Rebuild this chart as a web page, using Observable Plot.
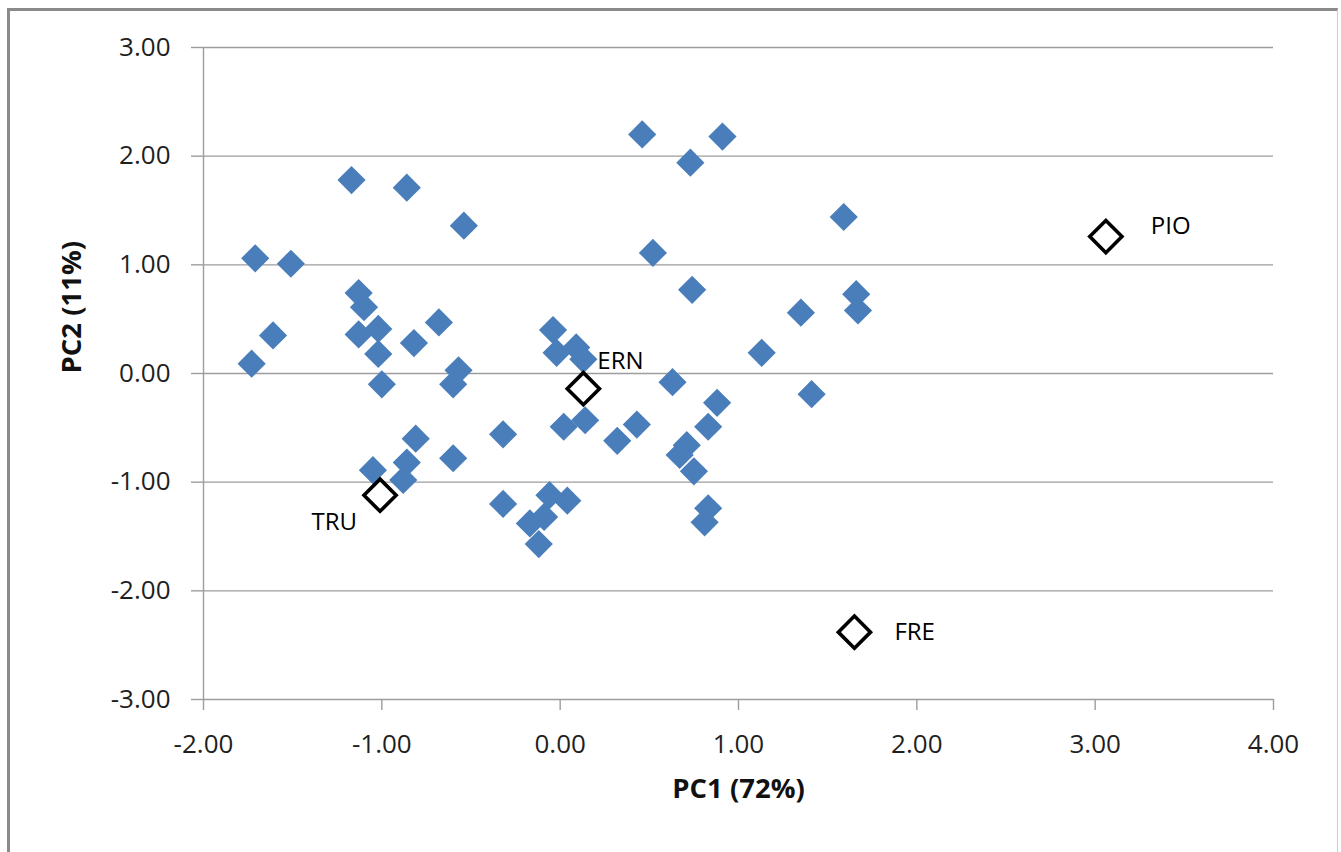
<!DOCTYPE html>
<html>
<head>
<meta charset="utf-8">
<script src="https://cdn.jsdelivr.net/npm/d3@7"></script>
<script src="https://cdn.jsdelivr.net/npm/@observablehq/plot@0.6"></script>
<style>
  html, body { margin: 0; padding: 0; background: #ffffff; overflow: hidden; }
  #frame {
    position: absolute; left: 7px; top: 8px; width: 1327px; height: 900px;
    border-left: 3px solid #8a8a8a; border-top: 3px solid #8a8a8a; border-right: 1px solid #cfcfcf;
  }
  #chart { position: absolute; left: 0; top: 0; }
</style>
</head>
<body>
<div id="frame"></div>
<div id="chart"></div>
<script>
// Sample scores (blue diamonds)
const sampleX = [-1.71, -1.51, -1.61, -1.73, -1.17, -0.86, -0.54, -1.13, -1.10, -1.13,
                 -1.02, -1.02, -0.82, -0.68, -0.57, -0.60, -1.00, -0.04, -0.02, 0.09,
                 0.13, 0.46, 0.91, 0.73, 1.59, 0.52, 0.74, 1.35, 1.66, 1.67,
                 1.13, 1.41, 0.63, 0.02, 0.14, 0.43, 0.32, -0.32, -0.81, -0.60,
                 -0.86, -0.88, -1.05, 0.88, 0.83, 0.71, 0.67, 0.75, 0.83, 0.81,
                 -0.32, -0.06, 0.04, -0.17, -0.09, -0.12];
const sampleY = [1.06, 1.01, 0.35, 0.09, 1.78, 1.71, 1.36, 0.74, 0.61, 0.36,
                 0.41, 0.18, 0.28, 0.47, 0.03, -0.10, -0.10, 0.40, 0.19, 0.24,
                 0.13, 2.20, 2.18, 1.94, 1.44, 1.11, 0.77, 0.56, 0.73, 0.58,
                 0.19, -0.19, -0.08, -0.49, -0.43, -0.47, -0.62, -0.56, -0.60, -0.78,
                 -0.82, -0.98, -0.89, -0.27, -0.49, -0.66, -0.75, -0.90, -1.24, -1.37,
                 -1.20, -1.12, -1.17, -1.38, -1.32, -1.57];

// Labelled reference points (open diamonds)
const refNames = ["ERN", "TRU", "PIO", "FRE"];
const refX = [0.13, -1.01, 3.06, 1.65];
const refY = [-0.14, -1.12, 1.26, -2.38];

const xTicks = [-2, -1, 0, 1, 2, 3, 4];
const yTicks = [-3, -2, -1, 0, 1, 2, 3];
const xTitle = "PC1 (72%)";
const yTitle = "PC2 (11%)";

const samples = sampleX.map((x, i) => ({x, y: sampleY[i]}));
const refs = refNames.map((name, i) => ({name, x: refX[i], y: refY[i]}));
const fmt = d => d.toFixed(2);

const labelStyle = {
  ERN: {dx: 14, dy: -27, textAnchor: "start"},
  TRU: {dx: -23, dy: 27, textAnchor: "end"},
  PIO: {dx: 45, dy: -10, textAnchor: "start"},
  FRE: {dx: 40, dy: 0, textAnchor: "start"}
};

const gridColor = "#9d9d9d";

const chart = Plot.plot({
  width: 1341,
  height: 852,
  marginLeft: 203,
  marginRight: 68,
  marginTop: 47,
  marginBottom: 153,
  style: {fontFamily: "'Open Sans', sans-serif", background: "transparent", overflow: "visible"},
  x: {domain: [-2, 4]},
  y: {domain: [-3, 3]},
  marks: [
    Plot.ruleY(yTicks, {x1: -2, x2: 4, stroke: gridColor, strokeWidth: 1.4}),
    Plot.ruleX([-2], {y1: -3, y2: 3, stroke: gridColor, strokeWidth: 1.4}),
    Plot.axisY(yTicks, {tickSize: 12, tickPadding: 21, tickFormat: fmt, fontSize: 26,
                        stroke: gridColor, strokeWidth: 1.4, fill: "#1f1f1f", label: null}),
    Plot.axisX(xTicks, {tickSize: 11, tickPadding: 24, tickFormat: fmt, fontSize: 26,
                        stroke: gridColor, strokeWidth: 1.4, fill: "#1f1f1f", label: null}),
    Plot.dot(samples, {x: "x", y: "y", symbol: "diamond2", r: 12.7, fill: "#4A7EBB", stroke: "none"}),
    Plot.dot(refs, {x: "x", y: "y", symbol: "diamond2", r: 14.5, fill: "#ffffff", stroke: "#000000", strokeWidth: 3.6}),
    ...refNames.map(n => Plot.text(refs.filter(d => d.name === n), {
      x: "x", y: "y", text: "name", fontSize: 24, fill: "#000000", ...labelStyle[n]
    })),
    Plot.text([xTitle], {text: d => d, frameAnchor: "bottom", dy: 98, fontSize: 27.5,
                         fontWeight: "bold", fill: "#111111"}),
    Plot.text([yTitle], {text: d => d, frameAnchor: "left", dx: -131, rotate: -90, fontSize: 27.5,
                         fontWeight: "bold", fill: "#111111"})
  ]
});
document.getElementById("chart").appendChild(chart);
</script>
</body>
</html>
